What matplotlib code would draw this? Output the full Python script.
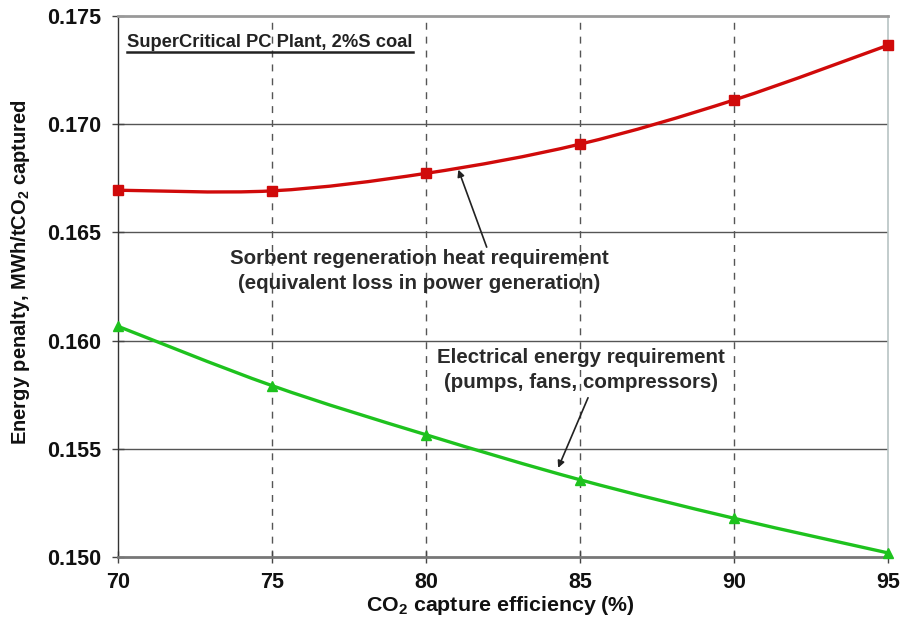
import matplotlib
matplotlib.use("Agg")
import matplotlib.pyplot as plt
from matplotlib.path import Path
from matplotlib.patches import PathPatch
from matplotlib.lines import Line2D

plt.rcParams['font.family'] = ['Liberation Sans', 'DejaVu Sans']
plt.rcParams['mathtext.fontset'] = 'custom'
plt.rcParams['mathtext.rm'] = 'Liberation Sans:bold'
plt.rcParams['mathtext.bf'] = 'Liberation Sans:bold'

# capture efficiency (%) and energy penalty (MWh/tCO2 captured)
efficiency = [70, 75, 80, 85, 90, 95]
sorbent_heat = [0.16695, 0.16692, 0.16773, 0.16908, 0.17112, 0.17365]
electrical = [0.16066, 0.15792, 0.15565, 0.15357, 0.15179, 0.15019]

x_ticks = [70, 75, 80, 85, 90, 95]
y_ticks = [0.150, 0.155, 0.160, 0.165, 0.170, 0.175]

RED = '#d00a0a'
GREEN = '#1ec21e'


def smooth_path(xs, ys):
    # Catmull-Rom style bezier through the points (like a spreadsheet "smoothed line")
    verts = [(xs[0], ys[0])]
    codes = [Path.MOVETO]
    n = len(xs)
    for i in range(n - 1):
        x0, y0 = (xs[i - 1], ys[i - 1]) if i > 0 else (xs[i], ys[i])
        x1, y1 = xs[i], ys[i]
        x2, y2 = xs[i + 1], ys[i + 1]
        x3, y3 = (xs[i + 2], ys[i + 2]) if i + 2 < n else (x2, y2)
        c1 = (x1 + (x2 - x0) / 6.0, y1 + (y2 - y0) / 6.0)
        c2 = (x2 - (x3 - x1) / 6.0, y2 - (y3 - y1) / 6.0)
        verts += [c1, c2, (x2, y2)]
        codes += [Path.CURVE4] * 3
    return Path(verts, codes)


fig = plt.figure(figsize=(9.03, 6.23), dpi=100)
ax = fig.add_axes([0.1307, 0.1059, 0.8527, 0.8684])

ax.set_xlim(70, 95)
ax.set_ylim(0.150, 0.175)
ax.set_xticks(x_ticks)
ax.set_yticks(y_ticks)
ax.set_yticklabels(['%.3f' % v for v in y_ticks])

# grid: solid horizontals, dashed verticals
for v in y_ticks[1:-1]:
    ax.axhline(v, color='#555555', lw=1.0, zorder=1)
for v in x_ticks[1:-1]:
    ax.axvline(v, color='#555555', lw=1.0, ls=(0, (5, 5)), zorder=1)

for xs_, ys_, col, mk in [(efficiency, sorbent_heat, RED, 's'),
                          (efficiency, electrical, GREEN, '^')]:
    ax.add_patch(PathPatch(smooth_path(xs_, ys_), facecolor='none',
                           edgecolor=col, lw=2.4, zorder=3, clip_on=False))
    ax.plot(xs_, ys_, ls='none', marker=mk, ms=6.5, color=col, zorder=4, clip_on=False)

ax.spines['left'].set_color('#333333')
ax.spines['left'].set_linewidth(1.0)
ax.spines['bottom'].set_color('#777777')
ax.spines['bottom'].set_linewidth(2.0)
ax.spines['top'].set_color('#999999')
ax.spines['top'].set_linewidth(2.0)
ax.spines['right'].set_color('#b8c4c4')
ax.spines['right'].set_linewidth(1.2)

ax.tick_params(axis='both', direction='inout', length=8, width=1, color='#444444',
               labelsize=15.5, pad=8)
ax.tick_params(axis='x', pad=7)
for lab in ax.get_xticklabels() + ax.get_yticklabels():
    lab.set_fontweight('bold')
    lab.set_color('#111111')

ax.set_xlabel(r'CO$_{\mathbf{2}}$ capture efficiency (%)', fontsize=15.4,
              fontweight='bold', color='#111111', va='center')
ax.xaxis.set_label_coords(0.497, -0.089)
ax.set_ylabel(r'Energy penalty, MWh/tCO$_{\mathbf{2}}$ captured', fontsize=14.5,
              fontweight='bold', color='#111111', va='center', ha='center')
ax.yaxis.set_label_coords(-0.127, 0.527)

# underlined case title
title = ax.text(0.012, 0.951, 'SuperCritical PC Plant, 2%S coal', transform=ax.transAxes,
                fontsize=13.2, fontweight='bold', color='#222222', va='center', ha='left')
fig.canvas.draw()
bb = title.get_window_extent().transformed(ax.transAxes.inverted())
ax.add_line(Line2D([bb.x0, bb.x1], [bb.y0 - 0.002, bb.y0 - 0.002], transform=ax.transAxes,
                   color='#222222', lw=1.8))

ax.text(79.77, 0.16324, 'Sorbent regeneration heat requirement\n(equivalent loss in power generation)',
        ha='center', va='center', fontsize=14.8, fontweight='bold', color='#2a2a2a',
        linespacing=1.4)
ax.annotate('', xy=(81.05, 0.1679), xytext=(81.97, 0.16432),
            arrowprops=dict(arrowstyle='-|>', color='#222222', lw=1.2,
                            shrinkA=0, shrinkB=0, mutation_scale=10))
ax.text(85.03, 0.15866, 'Electrical energy requirement\n(pumps, fans, compressors)',
        ha='center', va='center', fontsize=14.8, fontweight='bold', color='#2a2a2a',
        linespacing=1.4)
ax.annotate('', xy=(84.29, 0.15412), xytext=(85.26, 0.15736),
            arrowprops=dict(arrowstyle='-|>', color='#222222', lw=1.2,
                            shrinkA=0, shrinkB=0, mutation_scale=10))

fig.savefig('out.png', dpi=100, facecolor='white')
